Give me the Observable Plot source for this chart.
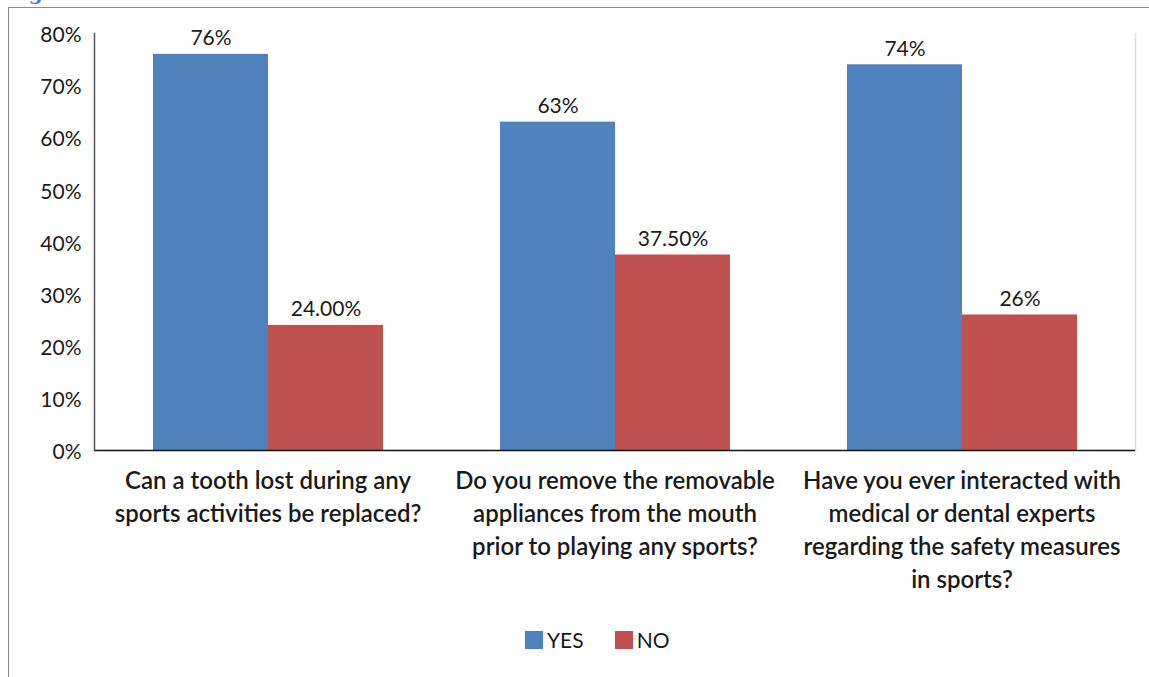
<!DOCTYPE html>
<html>
<head>
<meta charset="utf-8">
<script src="https://cdn.jsdelivr.net/npm/d3@7"></script>
<script src="https://cdn.jsdelivr.net/npm/@observablehq/plot@0.6"></script>
<style>
  html, body { margin: 0; padding: 0; background: #fff; }
  #page { position: relative; width: 1149px; height: 677px; overflow: hidden; font-family: Lato, sans-serif; }
  #fig-title { position: absolute; left: 7px; top: -19px; font-family: "DejaVu Serif", serif; font-weight: bold; font-size: 20px; color: #4a7fc1; white-space: nowrap; }
  #border { position: absolute; left: 8px; top: 7px; right: -10px; bottom: -10px; border-left: 1.5px solid #8a8a8a; border-top: 1.5px solid #8a8a8a; }
  #chart { position: absolute; left: 0; top: 0; }
  #legend { position: absolute; left: 525px; top: 627px; display: flex; align-items: center; font-size: 21px; color: #1a1a1a; }
  .item { display: flex; align-items: center; margin-right: 31px; }
  .swatch { width: 18px; height: 18px; margin-right: 4px; box-sizing: border-box; }
</style>
</head>
<body>
<div id="page">
  <div id="fig-title">Figure 3</div>
  <div id="border"></div>
  <div id="chart"></div>
  <div id="legend"></div>
</div>
<script>
// Survey questions shown along the bottom
const questions = [
  "Can a tooth lost during any\nsports activities be replaced?",
  "Do you remove the removable\nappliances from the mouth\nprior to playing any sports?",
  "Have you ever interacted with\nmedical or dental experts\nregarding the safety measures\nin sports?"
];
const answers = ["YES", "NO"];
const yesValues = [76, 63, 74];
const noValues = [24, 37.5, 26];
const yesLabels = ["76%", "63%", "74%"];
const noLabels = ["24.00%", "37.50%", "26%"];
const yTicks = [0, 10, 20, 30, 40, 50, 60, 70, 80];
const answerColors = ["#4F81BD", "#C0504D"];

// Long-format rows: one per question × answer
const rows = questions.flatMap((q, i) => [
  {question: q, answer: "YES", value: yesValues[i], label: yesLabels[i]},
  {question: q, answer: "NO", value: noValues[i], label: noLabels[i]}
]);

const chart = Plot.plot({
  width: 1149,
  height: 615,
  marginLeft: 93,
  marginRight: 13,
  marginTop: 33,
  marginBottom: 165,
  style: {fontFamily: "Lato, sans-serif", background: "transparent", overflow: "visible"},
  fx: {domain: questions, padding: 0, label: null},
  x: {domain: answers, paddingInner: 0, paddingOuter: 0.505, axis: null},
  y: {domain: [0, 80], axis: null},
  color: {domain: answers, range: answerColors},
  marks: [
    Plot.frame({anchor: "right", facetAnchor: "right", stroke: "#dcdcdc", strokeWidth: 1.5}),
    Plot.axisY({ticks: yTicks, tickFormat: d => d + "%", tickSize: 0, tickPadding: 13, fontSize: 21, fill: "#1a1a1a", dy: 2, label: null}),
    Plot.axisFx({anchor: "bottom", tickSize: 0, tickPadding: 15, fontSize: 24, fontWeight: 600, lineHeight: 1.38, fill: "#1a1a1a", label: null}),
    Plot.barY(rows, {fx: "question", x: "answer", y: "value", fill: "answer"}),
    Plot.text(rows, {fx: "question", x: "answer", y: "value", text: "label", dy: -16, fontSize: 21, fill: "#1a1a1a"}),
    Plot.ruleY([0], {stroke: "#111", strokeWidth: 1.5}),
    Plot.frame({anchor: "left", facetAnchor: "left", stroke: "#555", strokeWidth: 1.5})
  ]
});
document.getElementById("chart").appendChild(chart);

// Legend below the plot
const legend = document.getElementById("legend");
answers.forEach((a, i) => {
  const item = document.createElement("div");
  item.className = "item";
  const sw = document.createElement("div");
  sw.className = "swatch";
  sw.style.background = answerColors[i];
  const label = document.createElement("span");
  label.textContent = a;
  item.appendChild(sw);
  item.appendChild(label);
  legend.appendChild(item);
});
</script>
</body>
</html>
